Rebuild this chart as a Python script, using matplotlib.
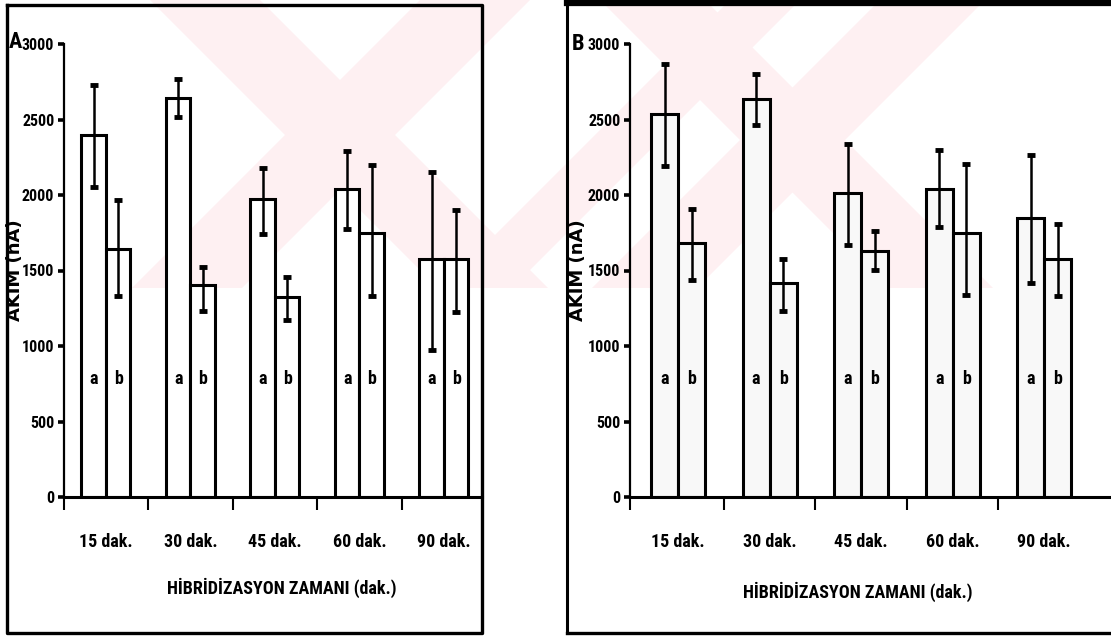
import matplotlib

matplotlib.use("Agg")
import matplotlib.pyplot as plt
import numpy as np
from matplotlib import font_manager
from matplotlib.lines import Line2D
from matplotlib.patches import Polygon

W, H = 1111, 638

times = ["15 dak.", "30 dak.", "45 dak.", "60 dak.", "90 dak."]

# panel A: means and lower / upper ends of the error bars
a_A = [2400, 2640, 1975, 2040, 1575]
a_A_lo = [2055, 2515, 1740, 1775, 975]
a_A_hi = [2730, 2765, 2180, 2290, 2150]
b_A = [1640, 1405, 1325, 1750, 1575]
b_A_lo = [1330, 1230, 1170, 1330, 1225]
b_A_hi = [1970, 1525, 1460, 2200, 1900]

# panel B
a_B = [2535, 2635, 2010, 2040, 1845]
a_B_lo = [2190, 2465, 1670, 1785, 1420]
a_B_hi = [2865, 2800, 2340, 2300, 2265]
b_B = [1685, 1415, 1630, 1750, 1575]
b_B_lo = [1435, 1235, 1505, 1340, 1330]
b_B_hi = [1910, 1575, 1760, 2205, 1810]

yticks = [0, 500, 1000, 1500, 2000, 2500, 3000]

available = {f.name for f in font_manager.fontManager.ttflist}
NARROW = next((f for f in ["Liberation Sans Narrow", "Roboto Condensed",
                           "Liberation Sans"] if f in available), "DejaVu Sans")


def fx(px):
    return px / W


def fy(py):
    return 1 - py / H


fig = plt.figure(figsize=(W / 100, H / 100), dpi=100)

# faint pink watermark in the upper half (rough diagonal bands)
PINK = "#fef0f2"
WM_BOTTOM = 288
for x0, bw, s in [(150, 110, 1), (420, 110, -1), (600, 105, 1),
                  (880, 105, -1), (730, 70, -1)]:
    pts = [(x0, 0), (x0 + bw, 0),
           (x0 + bw + s * WM_BOTTOM, WM_BOTTOM), (x0 + s * WM_BOTTOM, WM_BOTTOM)]
    fig.patches.append(Polygon([(fx(px), fy(py)) for px, py in pts],
                               closed=True, facecolor=PINK, edgecolor="none",
                               transform=fig.transFigure, zorder=-5))


def draw_panel(rect_px, xlim, w, a, a_lo, a_hi, b, b_lo, b_hi, face,
               ylab_x, xlab_xy):
    l, r, t, btm = rect_px
    ax = fig.add_axes([fx(l), fy(btm), (r - l) / W, (btm - t) / H])
    ax.set_facecolor("none")
    x = np.arange(len(times))
    for off, vals, lo, hi, tag in [(-w / 2, a, a_lo, a_hi, "a"),
                                   (w / 2, b, b_lo, b_hi, "b")]:
        vals = np.array(vals)
        ax.bar(x + off, vals, width=w, color=face, edgecolor="black",
               linewidth=2.2, zorder=2)
        ax.errorbar(x + off, vals, yerr=[vals - np.array(lo), np.array(hi) - vals],
                    fmt="none", ecolor="black", elinewidth=1.8, capsize=3,
                    capthick=3.5, zorder=3)
        for xi in x:
            ax.text(xi + off, 780, tag, ha="center", va="center", fontsize=13,
                    fontweight="bold", family=[NARROW, "DejaVu Sans"], zorder=4)
    ax.set_xlim(*xlim)
    ax.set_ylim(0, 3000)
    ax.set_yticks(yticks)
    ax.set_xticks(x)
    ax.set_xticklabels(times)
    ax.set_xticks([xlim[0], 0.5, 1.5, 2.5, 3.5], minor=True)
    for side in ["top", "right"]:
        ax.spines[side].set_visible(False)
    ax.spines["left"].set_linewidth(1.6)
    ax.spines["bottom"].set_linewidth(2.2)
    ax.tick_params(axis="y", length=4, width=2.6, pad=3, direction="out")
    ax.tick_params(axis="x", which="major", length=0, pad=26)
    ax.tick_params(axis="x", which="minor", length=9.5, width=1.5, direction="out")
    for lab in ax.get_xticklabels():
        lab.set_family([NARROW, "DejaVu Sans"])
        lab.set_fontweight("bold")
        lab.set_fontsize(13)
    for lab in ax.get_yticklabels():
        lab.set_family([NARROW, "DejaVu Sans"])
        lab.set_fontweight("bold")
        lab.set_fontsize(11.5)
    ax.text(ylab_x, 0.5, "AKIM (nA)", transform=ax.transAxes, rotation=90,
            ha="center", va="center", fontsize=13, fontweight="bold",
            family="DejaVu Sans")
    ax.text(xlab_xy[0], xlab_xy[1], "HİBRİDİZASYON ZAMANI (dak.)",
            transform=ax.transAxes, ha="center", va="center", fontsize=13,
            fontweight="bold", family=[NARROW, "DejaVu Sans"])
    return ax


draw_panel((64, 482, 44, 497), (-0.497, 4.45), 0.29,
           a_A, a_A_lo, a_A_hi, b_A, b_A_lo, b_A_hi, "white",
           (15 - 64) / 418, ((282 - 64) / 418, (497 - 588) / 453))
draw_panel((630, 1111, 44, 497), (-0.525, 4.73), 0.295,
           a_B, a_B_lo, a_B_hi, b_B, b_B_lo, b_B_hi, "#f8f8f8",
           (578 - 630) / 481, ((858 - 630) / 481, (497 - 592) / 453))

fig.text(fx(15), fy(42), "A", ha="center", va="center", fontsize=16,
         fontweight="bold", family=[NARROW, "DejaVu Sans"])
fig.text(fx(578), fy(44), "B", ha="center", va="center", fontsize=16,
         fontweight="bold", family=[NARROW, "DejaVu Sans"])

# panel frames
frames = [
    ([7, 482, 482, 7, 7], [5, 5, 633, 633, 5], 2.4),
    ([567, 1120], [633, 633], 2.4),
    ([567, 567], [3, 633], 2.2),
    ([567, 1120], [3, 3], 4.5),
]
for xs, ys, lw in frames:
    fig.add_artist(Line2D([fx(v) for v in xs], [fy(v) for v in ys],
                          color="black", linewidth=lw, transform=fig.transFigure,
                          zorder=10))

fig.savefig("out.png", dpi=100, facecolor="white")
